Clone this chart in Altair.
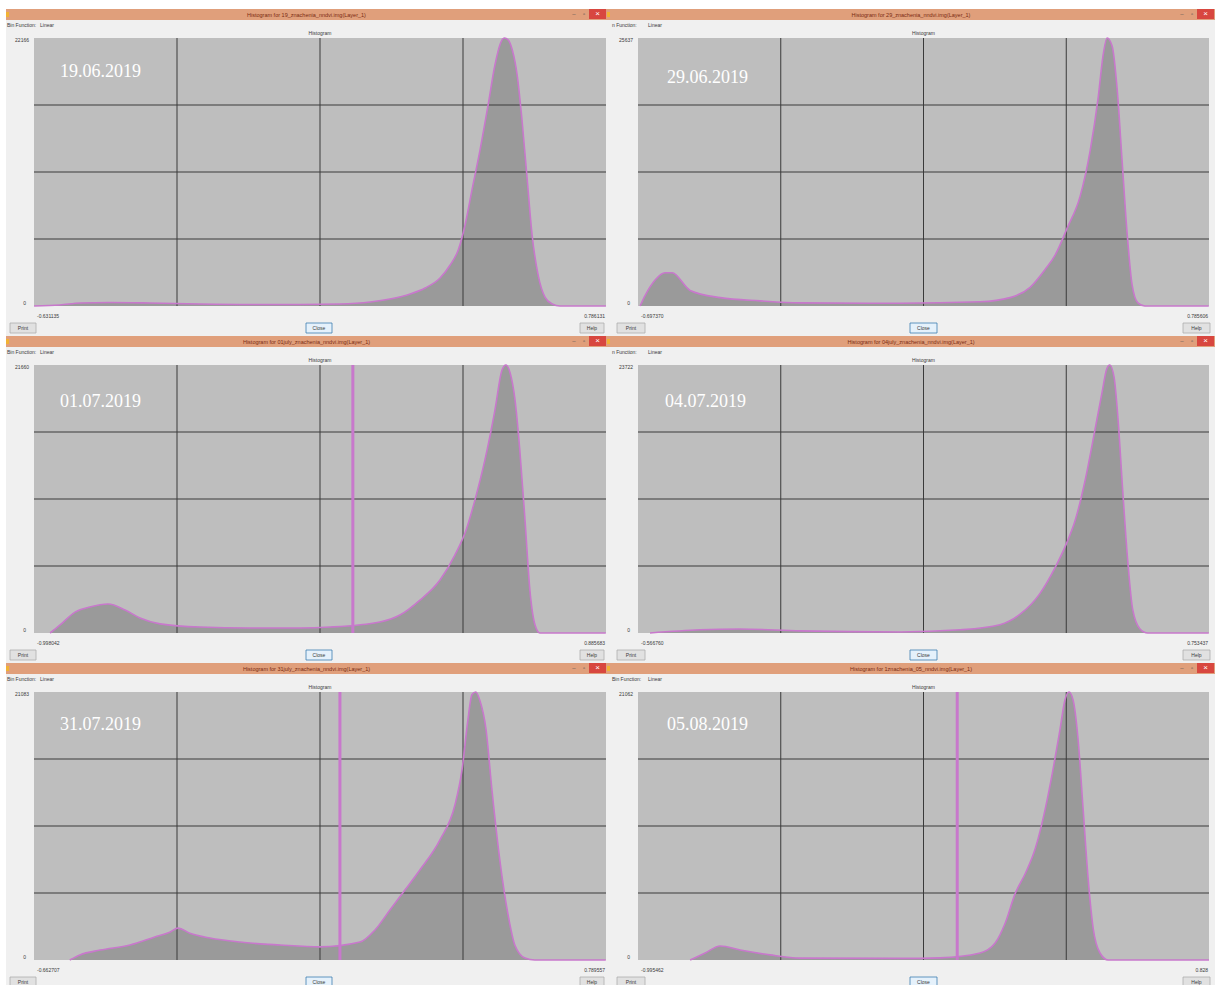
import altair as alt
import pandas as pd

# ---------------- data ----------------
TITLES = [
    "Histogram for 19_znachenia_nndvi.img(Layer_1)",
    "Histogram for 29_znachenia_nndvi.img(Layer_1)",
    "Histogram for 01july_znachenia_nndvi.img(Layer_1)",
    "Histogram for 04july_znachenia_nndvi.img(Layer_1)",
    "Histogram for 31july_znachenia_nndvi.img(Layer_1)",
    "Histogram for 1znachenia_05_nndvi.img(Layer_1)",
]
DATES = ["19.06.2019", "29.06.2019", "01.07.2019", "04.07.2019", "31.07.2019", "05.08.2019"]
X_MIN = [-0.631135, -0.697370, -0.998042, -0.566760, -0.662707, -0.995462]
X_MAX = [0.786131, 0.785606, 0.885683, 0.753437, 0.789557, 0.828]
X_MIN_LABELS = ["-0.631135", "-0.697370", "-0.998042", "-0.566760", "-0.662707", "-0.995462"]
X_MAX_LABELS = ["0.786131", "0.785606", "0.885683", "0.753437", "0.789557", "0.828"]
Y_MAX = [22166, 25637, 21660, 23722, 21083, 21062]
Y_MAX_LABELS = ["22166", "25637", "21660", "23722", "21083", "21062"]
SPIKES = [None, None, 0.052, None, 0.114, 0.024]

p1_x = [-0.631, -0.567, -0.517, -0.443, -0.344, -0.220, -0.096, 0.028, 0.127, 0.202, 0.251, 0.301,
        0.338, 0.375, 0.400, 0.420, 0.437, 0.454, 0.474, 0.494, 0.511, 0.524, 0.534, 0.544, 0.554,
        0.566, 0.578, 0.591, 0.603, 0.618, 0.635, 0.653, 0.672, 0.786]
p1_y = [0, 80, 250, 290, 250, 165, 125, 125, 165, 330, 580, 990, 1490, 2320, 3390, 4630, 6700,
        9590, 12900, 16620, 19930, 21670, 22160, 22000, 21170, 19100, 15380, 10420, 5870, 2560,
        740, 165, 0, 0]

p2_x = [-0.692, -0.679, -0.653, -0.627, -0.609, -0.562, -0.484, -0.380, -0.277, -0.017, 0.191,
        0.269, 0.321, 0.360, 0.386, 0.417, 0.451, 0.477, 0.498, 0.510, 0.521, 0.534, 0.547, 0.560,
        0.573, 0.586, 0.601, 0.619, 0.785]
p2_y = [0, 1000, 2490, 3180, 3180, 1490, 800, 490, 300, 260, 400, 800, 1790, 3490, 4870, 7430,
        10510, 14870, 20000, 23840, 25637, 24870, 20770, 13840, 6920, 2000, 300, 0, 0]

p3_x = [-0.945, -0.912, -0.863, -0.814, -0.754, -0.698, -0.649, -0.583, -0.451, -0.287, -0.122,
        -0.023, 0.141, 0.207, 0.273, 0.339, 0.388, 0.425, 0.454, 0.487, 0.520, 0.543, 0.556, 0.570,
        0.586, 0.602, 0.619, 0.635, 0.652, 0.668, 0.885]
p3_y = [0, 650, 1690, 2100, 2340, 1860, 1210, 740, 480, 410, 410, 480, 890, 1450, 2660, 4290,
        6300, 8320, 10740, 13990, 18020, 21230, 21660, 21010, 18840, 14730, 9100, 3470, 650, 0, 0]

p4_x = [-0.539, -0.424, -0.331, -0.192, 0.039, 0.178, 0.270, 0.316, 0.362, 0.397, 0.425, 0.443,
        0.467, 0.490, 0.506, 0.517, 0.524, 0.534, 0.543, 0.554, 0.566, 0.577, 0.594, 0.612, 0.753]
p4_y = [0, 285, 360, 190, 95, 285, 735, 1640, 3460, 5740, 8020, 9840, 13500, 18030, 21250, 23370,
        23722, 22630, 18980, 12570, 6170, 2090, 360, 0, 0]

p5_x = [-0.572, -0.546, -0.495, -0.419, -0.356, -0.318, -0.297, -0.267, -0.216, -0.140, -0.038,
        0.063, 0.165, 0.203, 0.241, 0.279, 0.317, 0.368, 0.406, 0.424, 0.439, 0.449, 0.459, 0.469,
        0.485, 0.500, 0.520, 0.541, 0.558, 0.584, 0.609, 0.789]
p5_y = [0, 400, 780, 1180, 1810, 2190, 2510, 2110, 1730, 1410, 1180, 1030, 1410, 2360, 3940, 5500,
        7080, 9450, 12190, 14950, 18890, 20870, 21083, 20450, 18130, 13370, 7860, 3540, 1180, 150,
        0, 0]

p6_x = [-0.829, -0.781, -0.733, -0.669, -0.574, -0.478, -0.158, -0.031, 0.097, 0.145, 0.177, 0.209,
        0.241, 0.273, 0.305, 0.330, 0.352, 0.368, 0.381, 0.394, 0.410, 0.426, 0.442, 0.458, 0.480,
        0.506, 0.828]
p6_y = [0, 550, 1100, 780, 400, 150, 130, 170, 550, 1330, 2890, 5220, 6780, 8740, 11860, 14980,
        18090, 20430, 21062, 20430, 17310, 11860, 6400, 2510, 550, 0, 0]

SERIES = [(p1_x, p1_y), (p2_x, p2_y), (p3_x, p3_y), (p4_x, p4_y), (p5_x, p5_y), (p6_x, p6_y)]

# ---------------- styling ----------------
BODY = "#f0f0f0"
BAR = "#e09f7b"
RED = "#d8473f"
PLOTBG = "#bebebe"
AREA = "#9a9a9a"
PINK = "#c878cc"
GRID = "#3a3a3a"
UI = "#3a3a3a"
UIFONT = "Liberation Sans"

ONE = pd.DataFrame({"k": [0]})


def rect(x, x2, y, y2, fill, **kw):
    return alt.Chart(ONE).mark_rect(fill=fill, **kw).encode(
        x=alt.value(x), x2=alt.value(x2), y=alt.value(y), y2=alt.value(y2))


def label(x, y, text, size=5.5, color=UI, align="center", font=UIFONT, **kw):
    return alt.Chart(ONE).mark_text(text=text, fontSize=size, color=color, align=align,
                                    baseline="middle", font=font, **kw).encode(
        x=alt.value(x), y=alt.value(y))


def panel(i, w, h, side, row):
    xs, ys = SERIES[i]
    xmin, xmax, ymax = X_MIN[i], X_MAX[i], Y_MAX[i]
    xsc = alt.Scale(domain=[xmin, xmax], nice=False, zero=False)
    ysc = alt.Scale(domain=[0, ymax], nice=False)
    df = pd.DataFrame({"ndvi": xs, "count": ys})
    L = []
    if side == "L":
        wx0, wx1 = -28, w + 1
        fn_text, fn_x, lin_x = "Bin Function:", -27, 6
        pr, cl, hp = (-24, 2), (272, 298), (546, 570)
    else:
        wx0, wx1 = -31, w + 6
        fn_text = "Bin Function:" if row == 2 else "n Function:"
        fn_x, lin_x = -26, 10
        pr, cl, hp = (-21, 7), (272, 299), (545, 572)
    bottom = h + 25 if row == 2 else h + 30
    if i == 0:
        L.append(rect(-34, w, -38, -29, "white"))
    # window body and title bar
    L.append(rect(wx0, wx1, -18, bottom, BODY))
    L.append(rect(wx0, wx1, -29, -18, BAR))
    L.append(rect(wx0, wx0 + 3, -26, -21, "#f2b233"))
    L.append(rect(wx1 - 18, wx1 - 1, -29, -19, RED))
    L.append(label(wx1 - 9.5, -24, "×", size=8, color="white"))
    L.append(label(wx1 - 23, -24, "▫", size=6, color="#555"))
    L.append(label(wx1 - 33, -24, "–", size=6, color="#555"))
    L.append(label((wx0 + wx1) / 2, -23.5, TITLES[i], size=5.5, color="#7a2b12"))
    L.append(label(fn_x, -13, fn_text, size=5, align="left"))
    L.append(label(lin_x, -13, "Linear", size=5, align="left"))
    L.append(label(w / 2, -5, "Histogram", size=5))
    # buttons
    for (bx0, bx1), txt, fill, stroke in [(pr, "Print", "#e1e1e1", "#adadad"),
                                           (cl, "Close", "#e5f1fb", "#3c7fb1"),
                                           (hp, "Help", "#e1e1e1", "#adadad")]:
        L.append(rect(bx0, bx1, h + 17, h + 27, fill, stroke=stroke, strokeWidth=0.8))
        L.append(label((bx0 + bx1) / 2, h + 22, txt, size=5))
    # plot
    L.append(rect(0, w, 0, h, PLOTBG))
    L.append(alt.Chart(df).mark_area(interpolate="monotone", color=AREA).encode(
        x=alt.X("ndvi:Q", scale=xsc, axis=None), y=alt.Y("count:Q", scale=ysc, axis=None)))
    gx = pd.DataFrame({"g": [xmin + k * (xmax - xmin) / 4 for k in (1, 2, 3)]})
    gy = pd.DataFrame({"g": [ymax * k / 4 for k in (1, 2, 3)]})
    L.append(alt.Chart(gx).mark_rule(color=GRID, strokeWidth=1).encode(
        x=alt.X("g:Q", scale=xsc, axis=None)))
    L.append(alt.Chart(gy).mark_rule(color=GRID, strokeWidth=1).encode(
        y=alt.Y("g:Q", scale=ysc, axis=None)))
    L.append(alt.Chart(df).mark_line(interpolate="monotone", color=PINK, strokeWidth=1.6).encode(
        x=alt.X("ndvi:Q", scale=xsc, axis=None), y=alt.Y("count:Q", scale=ysc, axis=None)))
    if SPIKES[i] is not None:
        L.append(alt.Chart(pd.DataFrame({"s": [SPIKES[i]]})).mark_rule(
            color=PINK, strokeWidth=3).encode(x=alt.X("s:Q", scale=xsc, axis=None)))
    # date
    dpos = [(26, 34), (29, 40), (26, 37), (27, 37), (26, 33), (29, 33)][i]
    L.append(label(dpos[0], dpos[1], DATES[i], size=18, color="white", align="left",
                   font="Liberation Serif"))
    # axis labels
    L.append(alt.Chart(pd.DataFrame({"v": [xmin], "t": [X_MIN_LABELS[i]]})).mark_text(
        align="left", baseline="middle", fontSize=5, color=UI, font=UIFONT, dx=3).encode(
        x=alt.X("v:Q", scale=xsc, axis=None), y=alt.value(h + 10), text="t:N"))
    L.append(alt.Chart(pd.DataFrame({"v": [xmax], "t": [X_MAX_LABELS[i]]})).mark_text(
        align="right", baseline="middle", fontSize=5, color=UI, font=UIFONT, dx=-1).encode(
        x=alt.X("v:Q", scale=xsc, axis=None), y=alt.value(h + 10), text="t:N"))
    L.append(alt.Chart(pd.DataFrame({"v": [ymax], "t": [Y_MAX_LABELS[i]]})).mark_text(
        align="right", baseline="middle", fontSize=5, color=UI, font=UIFONT, dy=2).encode(
        y=alt.Y("v:Q", scale=ysc, axis=None), x=alt.value(-5), text="t:N"))
    L.append(alt.Chart(pd.DataFrame({"v": [0], "t": ["0"]})).mark_text(
        align="right", baseline="middle", fontSize=5, color=UI, font=UIFONT, dy=-3).encode(
        y=alt.Y("v:Q", scale=ysc, axis=None), x=alt.value(-8), text="t:N"))
    return alt.layer(*L).properties(width=w, height=h)


H = 268
panels = []
for r in range(3):
    panels.append(panel(2 * r, 572, H, "L", r))
    panels.append(panel(2 * r + 1, 571, H, "R", r))

chart = alt.concat(*panels, columns=2, spacing={"row": 59, "column": 32},
                   bounds="flush").properties(
    background="white", padding=0
).configure_view(stroke=None, strokeWidth=0)

chart.save("out.html", embed_options={"renderer": "svg", "actions": False})
